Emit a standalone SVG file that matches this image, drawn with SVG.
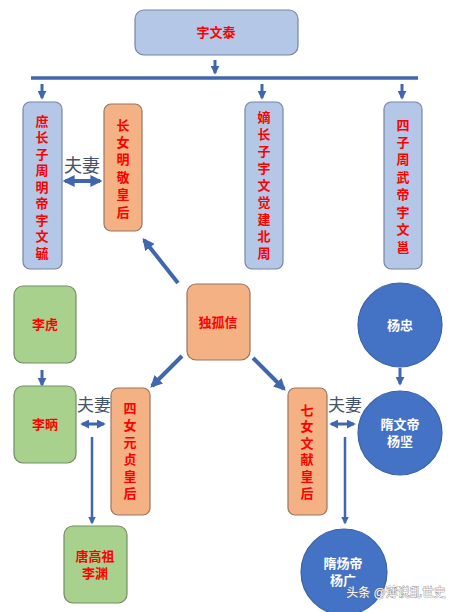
<svg xmlns="http://www.w3.org/2000/svg" width="454" height="612" viewBox="0 0 454 612">
<defs>
<style>
.blue{fill:#b4c7e7;stroke:#7486a8;stroke-width:1.2}
.orange{fill:#f4b183;stroke:#9a7463;stroke-width:1.2}
.green{fill:#a9d18e;stroke:#6f8f62;stroke-width:1.2}
.circ{fill:#4472c4;stroke:#3a62a8;stroke-width:1.2}
.t{font-family:"Liberation Sans","Noto Sans CJK SC",sans-serif;font-weight:bold;font-size:13px;fill:#ff0000;text-anchor:middle;dominant-baseline:central}
.w{font-family:"Liberation Sans","Noto Sans CJK SC",sans-serif;font-weight:bold;font-size:13px;fill:#ffffff;text-anchor:middle;dominant-baseline:central}
.fq{font-family:"Liberation Sans","Noto Sans CJK SC",sans-serif;font-size:18px;fill:#44546a;text-anchor:middle;dominant-baseline:central}
.ln{stroke:#4066b0;fill:none}
</style>
<marker id="ah" viewBox="0 0 10 10" refX="8" refY="5" markerWidth="3" markerHeight="3" orient="auto-start-reverse"><path d="M0,0 L10,5 L0,10 z" fill="#4066b0"/></marker>
</defs>
<g id="connectors">
<line class="ln" x1="215" y1="60" x2="215" y2="73" stroke-width="3" marker-end="url(#ah)"/>
<line class="ln" x1="31" y1="78" x2="418" y2="78" stroke-width="3.5"/>
<line class="ln" x1="42" y1="84" x2="42" y2="98" stroke-width="3" marker-end="url(#ah)"/>
<line class="ln" x1="262" y1="84" x2="262" y2="98" stroke-width="3" marker-end="url(#ah)"/>
<line class="ln" x1="402" y1="84" x2="402" y2="98" stroke-width="3" marker-end="url(#ah)"/>
<line class="ln" x1="65" y1="181" x2="100" y2="181" stroke-width="4" marker-start="url(#ah)" marker-end="url(#ah)"/>
<line class="ln" x1="178" y1="283" x2="144" y2="240" stroke-width="4" marker-end="url(#ah)"/>
<line class="ln" x1="182" y1="356" x2="152" y2="386" stroke-width="4" marker-end="url(#ah)"/>
<line class="ln" x1="253" y1="358" x2="284" y2="389" stroke-width="4" marker-end="url(#ah)"/>
<line class="ln" x1="42" y1="370" x2="42" y2="385" stroke-width="3" marker-end="url(#ah)"/>
<line class="ln" x1="400" y1="368" x2="400" y2="384" stroke-width="3" marker-end="url(#ah)"/>
<line class="ln" x1="82" y1="424" x2="104" y2="424" stroke-width="3" marker-start="url(#ah)" marker-end="url(#ah)"/>
<line class="ln" x1="331" y1="424" x2="354" y2="424" stroke-width="3" marker-start="url(#ah)" marker-end="url(#ah)"/>
<line class="ln" x1="92" y1="437" x2="92" y2="523" stroke-width="2.5" marker-end="url(#ah)"/>
<line class="ln" x1="345" y1="437" x2="345" y2="523" stroke-width="2.5" marker-end="url(#ah)"/>
<text class="fq" x="82" y="166">夫妻</text>
<text class="fq" x="94" y="405" style="font-size:17px">夫妻</text>
<text class="fq" x="345" y="405" style="font-size:17px">夫妻</text>
</g>
<g id="yuwentai">
<rect class="blue" x="135" y="10" width="163" height="45" rx="9"/>
<text class="t" x="216" y="32">宇文泰</text>
</g>
<g id="mingdi">
<rect class="blue" x="23" y="102" width="39" height="167" rx="7"/>
<text class="t" x="42" y="121">庶</text><text class="t" x="42" y="137.5">长</text><text class="t" x="42" y="154">子</text><text class="t" x="42" y="170.5">周</text><text class="t" x="42" y="187">明</text><text class="t" x="42" y="203.5">帝</text><text class="t" x="42" y="220">宇</text><text class="t" x="42" y="236.5">文</text><text class="t" x="42" y="253">毓</text>
</g>
<g id="mingjing">
<rect class="orange" x="104" y="104" width="38" height="127" rx="7"/>
<text class="t" x="123" y="125">长</text><text class="t" x="123" y="142.4">女</text><text class="t" x="123" y="159.8">明</text><text class="t" x="123" y="177.2">敬</text><text class="t" x="123" y="194.6">皇</text><text class="t" x="123" y="212">后</text>
</g>
<g id="yuwenjue">
<rect class="blue" x="245" y="102" width="38" height="167" rx="7"/>
<text class="t" x="264" y="117">嫡</text><text class="t" x="264" y="134">长</text><text class="t" x="264" y="151">子</text><text class="t" x="264" y="168">宇</text><text class="t" x="264" y="185">文</text><text class="t" x="264" y="202">觉</text><text class="t" x="264" y="219">建</text><text class="t" x="264" y="236">北</text><text class="t" x="264" y="253">周</text>
</g>
<g id="wudi">
<rect class="blue" x="384" y="102" width="38" height="167" rx="7"/>
<text class="t" x="403" y="125">四</text><text class="t" x="403" y="142.4">子</text><text class="t" x="403" y="159.9">周</text><text class="t" x="403" y="177.3">武</text><text class="t" x="403" y="194.7">帝</text><text class="t" x="403" y="212.1">宇</text><text class="t" x="403" y="229.6">文</text><text class="t" x="403" y="247">邕</text>
</g>
<g id="dugu">
<rect class="orange" x="187" y="284" width="63" height="76" rx="9"/>
<text class="t" x="218" y="322">独孤信</text>
</g>
<g id="lihu">
<rect class="green" x="14" y="286" width="62" height="77" rx="9"/>
<text class="t" x="45" y="324">李虎</text>
</g>
<g id="libing">
<rect class="green" x="14" y="386" width="62" height="77" rx="9"/>
<text class="t" x="45" y="424">李昞</text>
</g>
<g id="yuanzhen">
<rect class="orange" x="111" y="388" width="39" height="127" rx="7"/>
<text class="t" x="130" y="408">四</text><text class="t" x="130" y="425">女</text><text class="t" x="130" y="442">元</text><text class="t" x="130" y="459">贞</text><text class="t" x="130" y="476">皇</text><text class="t" x="130" y="493">后</text>
</g>
<g id="wenxian">
<rect class="orange" x="288" y="388" width="39" height="127" rx="7"/>
<text class="t" x="307" y="410">七</text><text class="t" x="307" y="426.6">女</text><text class="t" x="307" y="443.2">文</text><text class="t" x="307" y="459.8">献</text><text class="t" x="307" y="476.4">皇</text><text class="t" x="307" y="493">后</text>
</g>
<g id="yangzhong">
<circle class="circ" cx="400" cy="325" r="42"/>
<text class="w" x="400" y="325">杨忠</text>
</g>
<g id="yangjian">
<circle class="circ" cx="400" cy="433" r="42"/>
<text class="w" x="400" y="424">隋文帝</text>
<text class="w" x="400" y="441">杨坚</text>
</g>
<g id="liyuan">
<rect class="green" x="64" y="526" width="63" height="77" rx="9"/>
<text class="t" x="95" y="556">唐高祖</text>
<text class="t" x="95" y="573">李渊</text>
</g>
<g id="yangguang">
<circle class="circ" cx="344" cy="572" r="43"/>
<text class="w" x="343" y="563">隋炀帝</text>
<text class="w" x="343" y="580">杨广</text>
</g>
<text x="396" y="593" style="font-family:'Liberation Sans','Noto Sans CJK SC',sans-serif;font-size:12px;fill:#ffffff;text-anchor:middle;dominant-baseline:central;stroke:#777777;stroke-width:0.7;paint-order:stroke">头条 @薄说乱世史</text>
</svg>
